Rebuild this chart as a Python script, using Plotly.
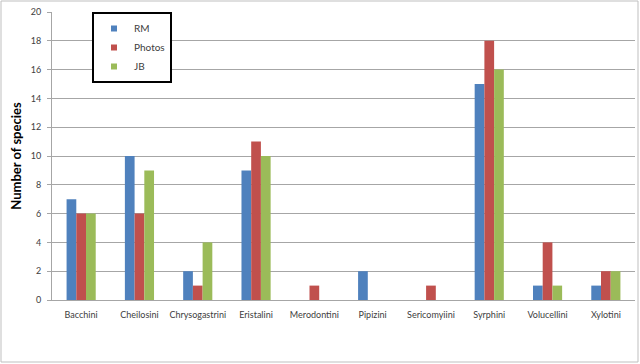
import plotly.graph_objects as go

categories = ["Bacchini", "Cheilosini", "Chrysogastrini", "Eristalini", "Merodontini",
              "Pipizini", "Sericomyiini", "Syrphini", "Volucellini", "Xylotini"]
rm = [7, 10, 2, 9, 0, 2, 0, 15, 1, 1]
photos = [6, 6, 1, 11, 1, 0, 1, 18, 4, 2]
jb = [6, 9, 4, 10, 0, 0, 0, 16, 1, 2]
y_ticks = [0, 2, 4, 6, 8, 10, 12, 14, 16, 18, 20]

series = [("RM", rm, "#4F81BD"),
          ("Photos", photos, "#C0504D"),
          ("JB", jb, "#9BBB59")]

fig = go.Figure()
for name, vals, col in series:
    fig.add_trace(go.Bar(x=categories, y=vals, name=name, marker_color=col,
                         marker_line_width=0, showlegend=False))
for name, vals, col in series:
    fig.add_trace(go.Scatter(x=[None], y=[None], mode="markers", name=name,
                             marker=dict(symbol="square", size=6, color=col,
                                         line=dict(width=0)),
                             legendgroup=name))

L, R, T, B = 52, 5, 12, 64
W, H = 640, 364
pw, ph = W - L - R, H - T - B

def px_x(p):
    return (p - L) / pw

def px_y(p):
    return (H - B - p) / ph

fig.update_layout(
    width=W, height=H,
    margin=dict(l=L, r=R, t=T, b=B, autoexpand=False),
    paper_bgcolor="white", plot_bgcolor="white",
    barmode="group", bargap=0.5, bargroupgap=0,
    font=dict(family="Lato, Open Sans, sans-serif", size=9, color="#404040"),
    legend=dict(x=px_x(92), y=1.0, xanchor="left", yanchor="top",
                bordercolor="black", borderwidth=2, bgcolor="white",
                font=dict(family="Lato, sans-serif", size=10, color="#404040"),
                tracegroupgap=3, itemwidth=30, traceorder="normal",
                itemsizing="trace"),
    yaxis=dict(range=[0, 20], tickvals=y_ticks, showgrid=True, gridcolor="#A6A6A6",
               gridwidth=1, ticks="outside", ticklen=4, tickcolor="#A6A6A6",
               showline=True, linecolor="#A6A6A6", linewidth=1,
               zeroline=False, tickfont=dict(size=9, color="#404040"),
               ticklabelstandoff=4,
               title=dict(text="<b>Number of species</b>", standoff=6,
                          font=dict(family="Lato, sans-serif", size=13, color="black"))),
    xaxis=dict(showline=True, linecolor="#A6A6A6", linewidth=1, ticks="",
               tickfont=dict(size=9, color="#404040"), automargin=False,
               ticklabelstandoff=6),
    shapes=[dict(type="rect", xref="paper", yref="paper",
                 x0=px_x(1), x1=px_x(638), y0=px_y(362), y1=px_y(1),
                 line=dict(color="#BFBFBF", width=1), layer="below")],
)
fig.update_yaxes(automargin=False)

fig.write_html("out.html", config={"displayModeBar": False},
               post_script="document.body.style.margin='0';document.body.style.padding='0';")
